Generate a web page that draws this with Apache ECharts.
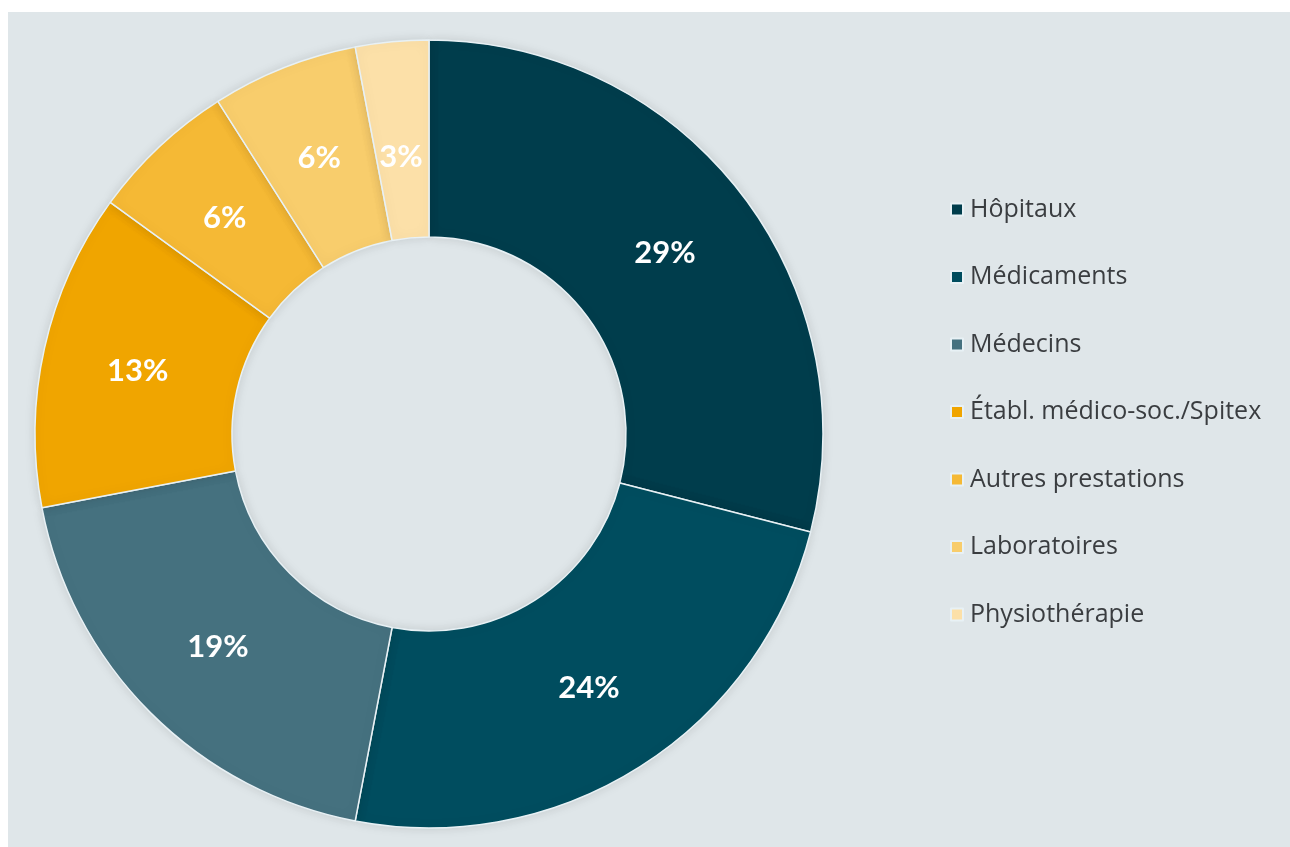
<!DOCTYPE html>
<html>
<head>
<meta charset="utf-8">
<script src="https://cdn.jsdelivr.net/npm/echarts@6/dist/echarts.min.js"></script>
<style>
html,body{margin:0;padding:0;background:#ffffff;width:1290px;height:847px;overflow:hidden;}
#chart{position:absolute;left:8px;top:12px;width:1282px;height:835px;background:#dfe6e9;}
</style>
</head>
<body>
<div id="chart"></div>
<script>
const categories = ['Hôpitaux','Médicaments','Médecins','Établ. médico-soc./Spitex','Autres prestations','Laboratoires','Physiothérapie'];
const values = [29, 24, 19, 13, 6, 6, 3];
const colors = ['#003d4c','#004d5f','#45717f','#f0a500','#f5b935','#f8cd6c','#fce0a8'];

const chart = echarts.init(document.getElementById('chart'));
chart.setOption({
  backgroundColor: 'transparent',
  color: colors,
  legend: {
    orient: 'vertical',
    left: 937,
    top: 180,
    itemWidth: 12,
    itemHeight: 12,
    itemGap: 42.5,
    icon: 'rect',
    data: categories,
    textStyle: { fontFamily: 'Open Sans', fontSize: 25, color: '#3a3d40', lineHeight: 25, padding: [0,0,0,2] }
  },
  series: [{
    type: 'pie',
    center: [421, 422],
    radius: [197, 394],
    startAngle: 90,
    clockwise: true,
    avoidLabelOverlap: false,
    itemStyle: { borderColor: '#e8f1f5', borderWidth: 1.5, shadowBlur: 12, shadowColor: 'rgba(0,0,0,0.12)' },
    label: {
      show: true,
      position: 'inside',
      formatter: '{c}%',
      fontFamily: 'Lato',
      fontWeight: 'bold',
      fontSize: 31,
      color: '#ffffff',
      offset: [0, 2]
    },
    labelLine: { show: false },
    emphasis: { disabled: true },
    data: categories.map((n, i) => {
      const d = { name: n, value: values[i] };
      if (i === values.length - 1) d.label = { offset: [0, 20] };
      return d;
    })
  }]
});
</script>
</body>
</html>
